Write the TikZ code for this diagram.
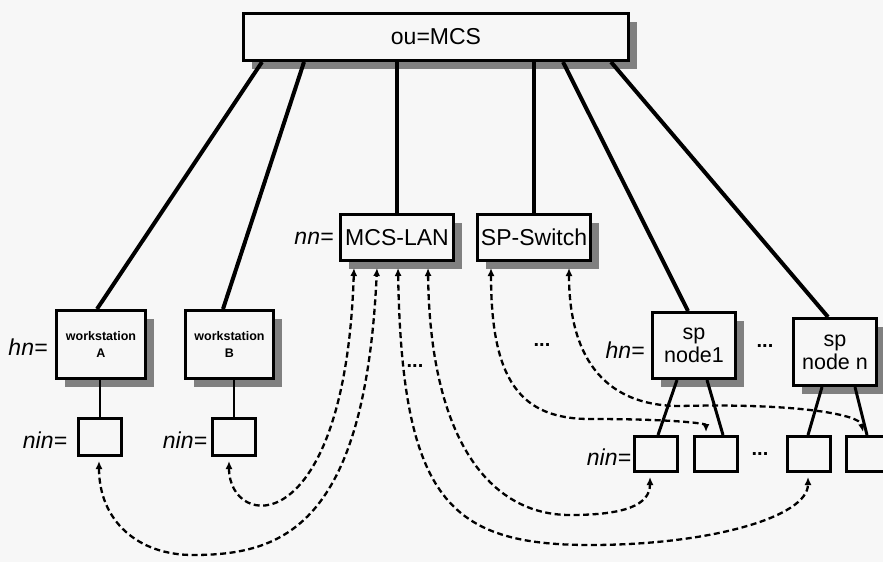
\documentclass[tikz,border=0pt]{standalone}
\usepackage{fontspec}
\setmainfont{Liberation Sans}
\usetikzlibrary{arrows.meta,shadows}
\definecolor{bg}{HTML}{F7F7F7}
\tikzset{
  boxs/.style={draw, line width=3pt, fill=bg, inner sep=0pt, align=center,
    drop shadow={shadow xshift=8pt, shadow yshift=-8pt, fill=black!50, opacity=1}},
  smallbox/.style={draw, line width=3pt, fill=bg, inner sep=0pt,
    minimum width=43pt, minimum height=37pt},
  big/.style={font=\fontsize{23}{26}\selectfont},
  mid/.style={font=\fontsize{21.5}{23}\selectfont},
  tiny/.style={font=\bfseries\fontsize{12.5}{17}\selectfont},
  lbl/.style={font=\itshape\fontsize{23}{26}\selectfont, inner sep=0pt},
  dots/.style={font=\bfseries\fontsize{20}{22}\selectfont, inner sep=0pt},
  trunk/.style={line width=4pt},
  twig/.style={line width=2.2pt},
  branch/.style={line width=3pt},
  dlink/.style={line width=2.3pt, dash pattern=on 6pt off 3.5pt,
    {Latex[length=8pt,width=7pt]}-{Latex[length=8pt,width=7pt]}}
}
\begin{document}
\begin{tikzpicture}[x=1pt, y=-1pt]
\useasboundingbox (0,0) rectangle (883,562);
\fill[bg] (0,0) rectangle (883,562);
\clip (0,0) rectangle (883,562);

% boxes
\node[boxs, big, minimum width=385pt, minimum height=47pt] (mcs) at (436,37) {ou=MCS};
\node[boxs, tiny, minimum width=89pt, minimum height=68pt] (wsA) at (101,344.5) {workstation\\A};
\node[boxs, tiny, minimum width=88pt, minimum height=68pt] (wsB) at (229.5,344.5) {workstation\\B};
\node[boxs, big, minimum width=113pt, minimum height=46pt] (lan) at (397,237.5) {MCS-LAN};
\node[boxs, big, minimum width=113pt, minimum height=46pt] (spsw) at (534,237.5) {SP-Switch};
\node[boxs, mid, minimum width=83pt, minimum height=66pt] (sp1) at (694,345.5) {sp\\node1};
\node[boxs, mid, minimum width=83pt, minimum height=67pt] (spn) at (835,352) {sp\\node n};

\node[smallbox] (ninA) at (100,437) {};
\node[smallbox] (ninB) at (234,437) {};
\node[smallbox, minimum height=35pt] (n1) at (656,454) {};
\node[smallbox, minimum height=35pt] (n2) at (716,454) {};
\node[smallbox, minimum height=35pt] (n3) at (809,454) {};
\node[smallbox, minimum height=35pt] (n4) at (868,454) {};

% labels
\node[lbl] (hnA) at (28,347) {hn=};
\node[lbl] (ninlA) at (45,440) {nin=};
\node[lbl] (ninlB) at (185,440) {nin=};
\node[lbl] (nnl) at (314,238) {nn=};
\node[lbl] (hn1) at (625,350) {hn=};
\node[lbl] (ninl1) at (609,457) {nin=};

\node[dots] (d1) at (415,366) {...};
\node[dots] (d2) at (542,345) {...};
\node[dots] (d3) at (765,346) {...};
\node[dots] (d4) at (760,454) {...};

% trunk lines from ou=MCS
\draw[trunk] ([xshift=-174pt]mcs.south) -- ([xshift=-4pt]wsA.north);
\draw[trunk] ([xshift=-132pt]mcs.south) -- ([xshift=-6.5pt]wsB.north);
\draw[trunk] (lan.north |- mcs.south) -- (lan.north);
\draw[trunk] (spsw.north |- mcs.south) -- (spsw.north);
\draw[trunk] ([xshift=127pt]mcs.south) -- ([xshift=-6pt]sp1.north);
\draw[trunk] ([xshift=175pt]mcs.south) -- ([xshift=-7pt]spn.north);

% workstation to nin
\draw[twig] (ninA.north |- wsA.south) -- (ninA.north);
\draw[twig] (ninB.north |- wsB.south) -- (ninB.north);

% sp nodes to nin
\draw[branch] ([xshift=-17pt]sp1.south) -- ([xshift=2pt]n1.north);
\draw[branch] ([xshift=13pt]sp1.south) -- ([xshift=7pt]n2.north);
\draw[branch] ([xshift=-13pt]spn.south) -- ([xshift=-1pt]n3.north);
\draw[branch] ([xshift=20pt]spn.south) -- ([xshift=-1pt]n4.north);

% waypoints of the dashed links
\coordinate (w2) at (193,555);
\coordinate (w3) at (590,545);
\coordinate (w4) at (570,515);
\coordinate (w5) at (590,419);
\coordinate (w6) at (680,406);

% dashed links
\draw[dlink] ([xshift=-5pt,yshift=-4pt]ninB.south) .. controls +(0,70) and +(-9,275) .. ([xshift=-43pt,yshift=-6pt]lan.south);
\draw[dlink] ([xshift=-1pt,yshift=-4pt]ninA.south) .. controls +(0,60) and +(-55,0) .. (w2)
   .. controls +(90,0) and +(-12,258) .. ([xshift=-20pt,yshift=-6pt]lan.south);
\draw[dlink] ([xshift=1pt,yshift=-6pt]lan.south) .. controls +(4,232) and +(-140,0) .. (w3)
   .. controls +(120,0) and +(0,40) .. ([xshift=-1pt,yshift=-4pt]n3.south);
\draw[dlink] ([xshift=31pt,yshift=-6pt]lan.south) .. controls +(2,172) and +(-80,0) .. (w4)
   .. controls +(55,0) and +(0,28) .. ([xshift=-6pt,yshift=-4pt]n1.south);
\draw[dlink] ([xshift=-43pt,yshift=-6pt]spsw.south) .. controls +(0,112) and +(-70,0) .. (w5)
   .. controls +(90,0) and +(0,-8) .. ([xshift=-10pt,yshift=3pt]n2.north);
\draw[dlink] ([xshift=35pt,yshift=-6pt]spsw.south) .. controls +(0,84) and +(-80,0) .. (w6)
   .. controls +(120,-3) and +(-3,-17) .. ([xshift=-5pt,yshift=3pt]n4.north);
\end{tikzpicture}
\end{document}
